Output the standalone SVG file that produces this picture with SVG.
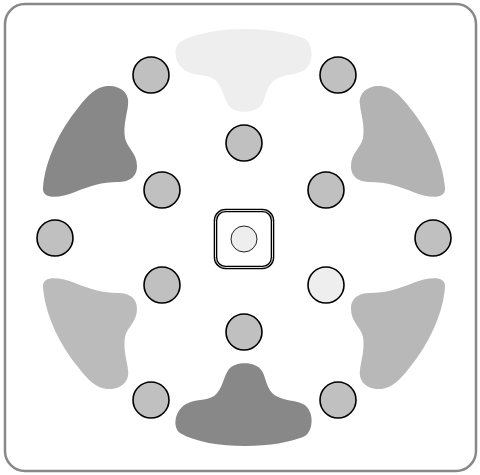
<svg xmlns="http://www.w3.org/2000/svg" width="480" height="475" viewBox="0 0 480 475">
  <style>
    .node { fill: #c0c0c0; stroke: #000; stroke-width: 1.6; }
    .light { fill: #eeeeee; }
  </style>
  <defs>
    <path id="side" d="M 107,86 C 120,85 130,93 128,105 C 127,115 123,125 125,138 C 127,148 137,153 137,166 C 137,178 128,182 118,182 C 102,182 90,186 75,192 C 60,198 42,200 43,188 C 45,160 60,130 78,108 C 88,95 96,87 107,86 Z"/>
    <path id="tb" d="M 180,42 C 195,33 220,29 245,29 C 270,29 290,33 303,38 C 314,42 315,65 303,71 C 295,75 285,74 276,79 C 266,85 266,98 262,104 C 256,114 236,114 229,106 C 223,98 223,86 214,79 C 206,74 195,76 186,71 C 175,65 172,48 180,42 Z"/>
  </defs>
  <rect x="0" y="0" width="480" height="475" fill="#fff"/>
  <rect id="frame" x="5" y="4" width="471" height="467" rx="20" fill="#fff" stroke="#888" stroke-width="2.5"/>

  <g id="regions">
    <use id="region-top" href="#tb" fill="#eeeeee"/>
    <use id="region-bottom" href="#tb" fill="#888888" transform="matrix(1,0,0,-1,0,475)"/>
    <use id="region-top-left" href="#side" fill="#888888"/>
    <use id="region-top-right" href="#side" fill="#b3b3b3" transform="matrix(-1,0,0,1,488,0)"/>
    <use id="region-bottom-left" href="#side" fill="#bbbbbb" transform="matrix(1,0,0,-1,0,475)"/>
    <use id="region-bottom-right" href="#side" fill="#b8b8b8" transform="matrix(-1,0,0,-1,488,475)"/>
  </g>

  <g id="connectors"></g>

  <g id="center">
    <rect x="215.5" y="210.5" width="57" height="57" rx="10" fill="#fff" stroke="#000" stroke-width="3.6"/>
    <rect x="215.5" y="210.5" width="57" height="57" rx="10" fill="none" stroke="#fff" stroke-width="0.9"/>
    <circle cx="244" cy="239" r="13" fill="#eeeeee" stroke="#222" stroke-width="1"/>
  </g>

  <g id="n1"><circle class="node" cx="151" cy="75" r="18"/></g>
  <g id="n2"><circle class="node" cx="338" cy="75" r="18"/></g>
  <g id="n3"><circle class="node" cx="244" cy="143" r="18"/></g>
  <g id="n4"><circle class="node" cx="162" cy="190" r="18"/></g>
  <g id="n5"><circle class="node" cx="326" cy="190" r="18"/></g>
  <g id="n6"><circle class="node" cx="55" cy="238" r="18"/></g>
  <g id="n7"><circle class="node" cx="433" cy="238" r="18"/></g>
  <g id="n8"><circle class="node" cx="162" cy="285" r="18"/></g>
  <g id="n9"><circle class="node light" cx="326" cy="285" r="18"/></g>
  <g id="n10"><circle class="node" cx="244" cy="332" r="18"/></g>
  <g id="n11"><circle class="node" cx="151" cy="400" r="18"/></g>
  <g id="n12"><circle class="node" cx="338" cy="400" r="18"/></g>
</svg>
